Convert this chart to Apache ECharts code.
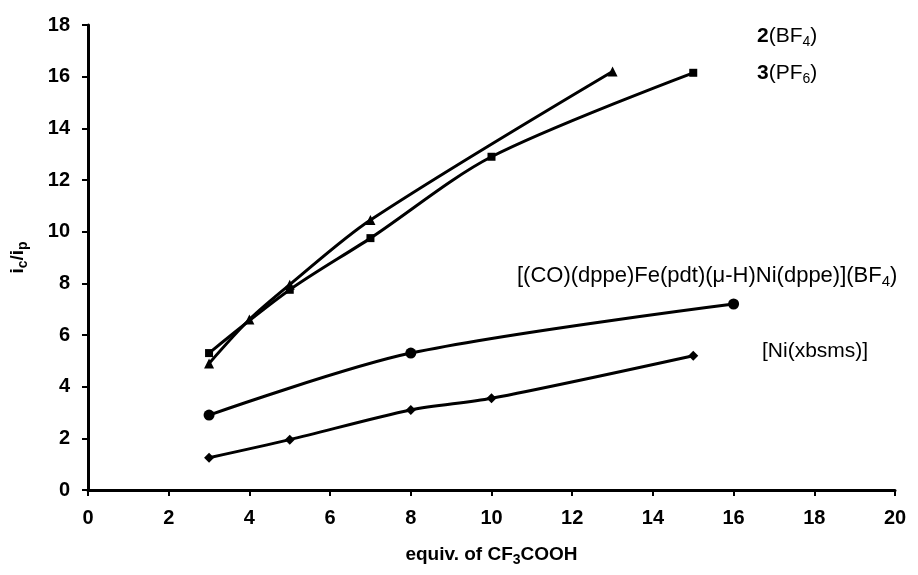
<!DOCTYPE html>
<html>
<head>
<meta charset="utf-8">
<script src="https://cdn.jsdelivr.net/npm/echarts@6/dist/echarts.min.js"></script>
<style>
  html, body { margin: 0; padding: 0; background: #fff; }
  #chart { width: 918px; height: 575px; }
</style>
</head>
<body>
<div id="chart"></div>
<script>
// values
const xBF4 = [3, 4, 5, 7, 13];
const yBF4 = [4.9, 6.6, 7.95, 10.45, 16.2];

const xPF6 = [3, 5, 7, 10, 15];
const yPF6 = [5.3, 7.75, 9.75, 12.9, 16.15];

const xFeNi = [3, 8, 16];
const yFeNi = [2.9, 5.3, 7.2];

const xNi = [3, 5, 8, 10, 15];
const yNi = [1.25, 1.95, 3.1, 3.55, 5.2];

const font = 'Arial, "Liberation Sans", sans-serif';

function pairs(xs, ys) {
  return xs.map((x, i) => [x, ys[i]]);
}

function lineSeries(name, xs, ys, symbol, size) {
  return {
    name: name,
    type: 'line',
    data: pairs(xs, ys),
    smooth: 0.3,
    symbol: symbol,
    symbolSize: size,
    showSymbol: true,
    itemStyle: { color: '#000' },
    lineStyle: { color: '#000', width: 3 },
    emphasis: { disabled: true }
  };
}

// text labels next to the curves
const rich = {
  b: { fontFamily: font, fontSize: 21, fontWeight: 'bold', color: '#000' },
  n: { fontFamily: font, fontSize: 21, color: '#000' },
  s: { fontFamily: font, fontSize: 14, color: '#000', padding: [12, 0, 0, 0] }
};
const richBig = {
  n: { fontFamily: font, fontSize: 22, color: '#000' },
  s: { fontFamily: font, fontSize: 15, color: '#000', padding: [12, 0, 0, 0] }
};

const nameRich = {
  a: { fontFamily: font, fontSize: 19, fontWeight: 'bold', color: '#000' },
  s: { fontFamily: font, fontSize: 14, fontWeight: 'bold', color: '#000', padding: [10, 0, 0, 0] }
};

let myChart = echarts.init(document.getElementById('chart'));
let option = {
  animation: false,
  backgroundColor: '#fff',
  grid: { left: 88, right: 23, top: 25, bottom: 85 },
  xAxis: {
    type: 'value',
    min: 0, max: 20, interval: 2,
    name: '{a|equiv. of CF}{s|3}{a|COOH}',
    nameLocation: 'middle',
    nameGap: 53,
    nameTextStyle: { rich: nameRich },
    axisLine: { show: true, lineStyle: { color: '#000', width: 3 } },
    axisTick: { show: true, inside: false, length: 6, lineStyle: { color: '#000', width: 2 } },
    axisLabel: { fontFamily: font, fontSize: 20, fontWeight: 'bold', color: '#000', margin: 18 },
    splitLine: { show: false }
  },
  yAxis: {
    type: 'value',
    min: 0, max: 18, interval: 2,
    name: '{a|i}{s|c}{a|/i}{s|p}',
    nameLocation: 'middle',
    nameGap: 58,
    nameRotate: 90,
    nameTextStyle: { rich: nameRich },
    axisLine: { show: true, lineStyle: { color: '#000', width: 3 } },
    axisTick: { show: true, inside: false, length: 6, lineStyle: { color: '#000', width: 2 } },
    axisLabel: { fontFamily: font, fontSize: 20, fontWeight: 'bold', color: '#000', margin: 18 },
    splitLine: { show: false }
  },
  series: [
    lineSeries('2(BF4)', xBF4, yBF4, 'triangle', 10),
    lineSeries('3(PF6)', xPF6, yPF6, 'rect', 8),
    lineSeries('FeNi', xFeNi, yFeNi, 'circle', 11),
    lineSeries('Ni(xbsms)', xNi, yNi, 'diamond', 10)
  ],
  graphic: [
    { type: 'text', left: 757, top: 26, style: { text: '{b|2}{n|(BF}{s|4}{n|)}', rich: rich } },
    { type: 'text', left: 757, top: 63, style: { text: '{b|3}{n|(PF}{s|6}{n|)}', rich: rich } },
    { type: 'text', left: 517, top: 265, style: { text: '{n|[(CO)(dppe)Fe(pdt)(\u03bc-H)Ni(dppe)](BF}{s|4}{n|)}', rich: richBig } },
    { type: 'text', left: 762, top: 341, style: { text: '{n|[Ni(xbsms)]}', rich: rich } }
  ]
};
myChart.setOption(option);
</script>
</body>
</html>
